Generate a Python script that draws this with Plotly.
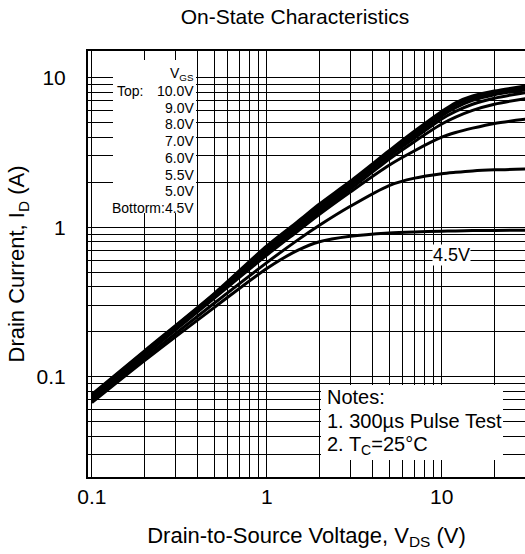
import plotly.graph_objects as go

# ---- data ----
vds = [0.1, 0.2, 0.5, 1, 1.5, 2, 3, 5, 7, 10, 12, 15, 20, 30]

id_10v = [0.076, 0.149, 0.36, 0.75, 1.09, 1.43, 2.03, 3.25, 4.4, 5.95, 6.8, 7.55, 8.15, 8.8]
id_9v = [0.075, 0.147, 0.355, 0.73, 1.06, 1.39, 1.98, 3.15, 4.25, 5.75, 6.55, 7.3, 7.95, 8.55]
id_8v = [0.074, 0.145, 0.35, 0.71, 1.03, 1.35, 1.93, 3.07, 4.1, 5.55, 6.3, 7.05, 7.7, 8.3]
id_7v = [0.073, 0.143, 0.345, 0.69, 1.0, 1.31, 1.88, 2.98, 3.95, 5.3, 5.95, 6.65, 7.3, 7.95]
id_6v = [0.072, 0.141, 0.34, 0.67, 0.97, 1.27, 1.8, 2.85, 3.75, 4.9, 5.45, 6.05, 6.65, 7.25]
id_5v5 = [0.071, 0.139, 0.335, 0.65, 0.94, 1.22, 1.72, 2.6, 3.25, 4.0, 4.3, 4.6, 4.95, 5.27]
id_5v = [0.069, 0.133, 0.31, 0.58, 0.82, 1.03, 1.38, 1.9, 2.13, 2.28, 2.33, 2.38, 2.42, 2.45]
id_4v5 = [0.067, 0.128, 0.29, 0.53, 0.70, 0.80, 0.87, 0.915, 0.93, 0.94, 0.945, 0.95, 0.952, 0.955]

vgs_labels = ["10.0V", "9.0V", "8.0V", "7.0V", "6.0V", "5.5V", "5.0V", "4.5V"]
series = [id_10v, id_9v, id_8v, id_7v, id_6v, id_5v5, id_5v, id_4v5]

x_tickvals = [0.1, 1, 10]
x_ticktext = ["0.1", "1", "10"]
y_tickvals = [0.1, 1, 10]
y_ticktext = ["0.1", "1", "10"]

FONT = "Liberation Sans, Arial, sans-serif"

fig = go.Figure()
for lab, ys in zip(vgs_labels, series):
    fig.add_trace(go.Scatter(x=vds, y=ys, mode="lines", name=lab,
                             line=dict(color="black", width=3, shape="spline", smoothing=0.8),
                             showlegend=False, hoverinfo="skip"))

W, H = 525, 554
L, R, T, B = 88, 0, 51, 77
pw, ph = W - L - R, H - T - B

def px(xp):
    return (xp - L) / pw

def py(yp):
    return 1 - (yp - T) / ph

grid = dict(showgrid=True, gridcolor="black", gridwidth=1)

fig.update_layout(
    width=W, height=H,
    margin=dict(l=L, r=R, t=T, b=B, autoexpand=False),
    paper_bgcolor="white", plot_bgcolor="white",
    font=dict(family=FONT, color="black"),
    title=dict(text="On-State Characteristics", font=dict(size=21, family=FONT, color="black"),
               xref="container", x=295 / W, xanchor="center",
               yref="container", y=1 - 17 / H, yanchor="middle"),
    xaxis=dict(type="log", range=[-1.022, 1.476], automargin=False,
               tickmode="array", tickvals=x_tickvals, ticktext=x_ticktext,
               tickfont=dict(size=21), ticks="", ticklabelstandoff=0,
               showline=True, linecolor="black", linewidth=2, mirror=True,
               minor=dict(dtick="D1", showgrid=True, gridcolor="black", gridwidth=1, ticks=""),
               title=dict(text="Drain-to-Source Voltage, V<sub>DS</sub> (V)", font=dict(size=22),
                          standoff=20),
               zeroline=False, **grid),
    yaxis=dict(type="log", range=[-1.671, 1.179], automargin=False,
               tickmode="array", tickvals=y_tickvals, ticktext=y_ticktext,
               tickfont=dict(size=21), ticks="", ticklabelstandoff=16,
               showline=True, linecolor="black", linewidth=2, mirror=False,
               minor=dict(dtick="D1", showgrid=True, gridcolor="black", gridwidth=1, ticks=""),
               title=dict(text="Drain Current, I<sub>D</sub> (A)", font=dict(size=22),
                          standoff=6),
               zeroline=False, **grid),
)

# white boxes (legend block and notes block) over the grid
fig.add_shape(type="rect", xref="paper", yref="paper", layer="above",
              x0=px(113), x1=px(196), y0=py(213), y1=py(60),
              fillcolor="white", line=dict(width=0))
fig.add_shape(type="rect", xref="paper", yref="paper", layer="above",
              x0=px(321), x1=px(503), y0=py(460), y1=py(385),
              fillcolor="white", line=dict(width=0))

# VGS list
fs = 14
fig.add_annotation(xref="paper", yref="paper", x=px(196), y=py(74), xanchor="right", yanchor="middle",
                   text="V<sub>GS</sub>", showarrow=False, font=dict(size=fs))
row0, step = 91, 16.7
for i, lab in enumerate(vgs_labels):
    yy = row0 + i * step
    txt = lab if i < len(vgs_labels) - 1 else "Bottorm:" + lab
    fig.add_annotation(xref="paper", yref="paper", x=px(196), y=py(yy), xanchor="right", yanchor="middle",
                       text=txt, showarrow=False, font=dict(size=fs))
fig.add_annotation(xref="paper", yref="paper", x=px(115), y=py(row0), xanchor="left", yanchor="middle",
                   text="Top:", showarrow=False, font=dict(size=fs))

# curve label
fig.add_annotation(xref="paper", yref="paper", x=px(451), y=py(255), xanchor="center", yanchor="middle",
                   text=vgs_labels[-1], showarrow=False, font=dict(size=18), bgcolor="white", borderpad=0)

# notes
notes = ["Notes:", "1. 300µs Pulse Test", "2. T<sub>C</sub>=25°C"]
for i, t in enumerate(notes):
    fig.add_annotation(xref="paper", yref="paper", x=px(325), y=py(397 + 24 * i), xanchor="left",
                       yanchor="middle", text=t, showarrow=False, font=dict(size=20))

fig.write_html("out.html", config={"displayModeBar": False},
               post_script="document.body.style.margin='0';")
